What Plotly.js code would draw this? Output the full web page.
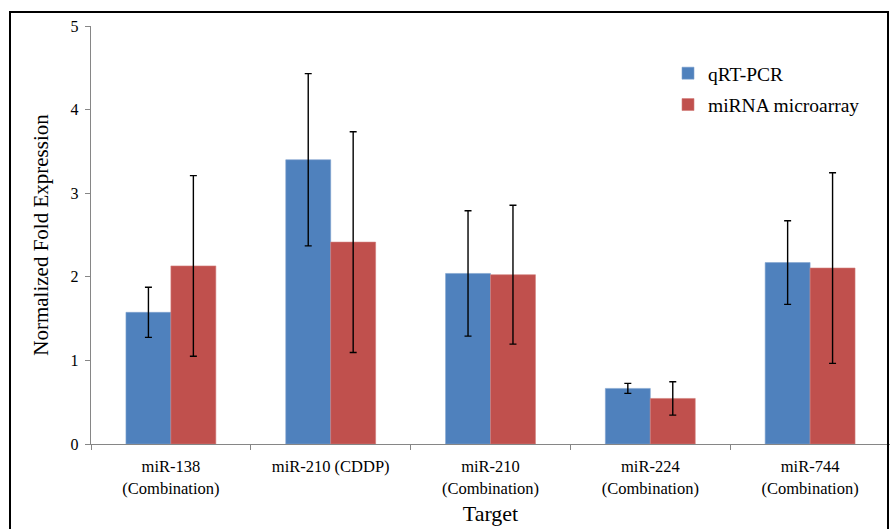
<!DOCTYPE html>
<html>
<head>
<meta charset="utf-8">
<script src="https://cdn.plot.ly/plotly-3.0.1.min.js"></script>
<style>html,body{margin:0;padding:0;background:#fff;}#chart{width:890px;height:529px;}</style>
</head>
<body>
<div id="chart"></div>
<script>
const categories = ["miR-138<br>(Combination)", "miR-210 (CDDP)", "miR-210<br>(Combination)", "miR-224<br>(Combination)", "miR-744<br>(Combination)"];
const qrtpcr = [1.575, 3.40, 2.04, 0.665, 2.17];
const qrtpcrErr = [0.30, 1.03, 0.75, 0.06, 0.50];
const microarray = [2.13, 2.415, 2.025, 0.545, 2.105];
const microarrayErr = [1.08, 1.32, 0.83, 0.20, 1.14];
const yTicks = [0, 1, 2, 3, 4, 5];

const L = 91, R = 0, T = 26, B = 85, W = 890, H = 529;
const pw = W - L - R, ph = H - T - B;
const px = x => (x - L) / pw;
const py = y => (H - B - y) / ph;

const FONT = "'Liberation Serif', 'Times New Roman', serif";
const errStyle = {type: 'data', visible: true, color: '#000', thickness: 1.4, width: 3.5};

const traces = [
  {type: 'bar', name: 'qRT-PCR', x: categories, y: qrtpcr, legendgroup: 'a',
   marker: {color: '#4F81BD', line: {color: '#7fa2cf', width: 0.6}},
   error_y: Object.assign({array: qrtpcrErr}, errStyle)},
  {type: 'bar', name: 'miRNA microarray', x: categories, y: microarray, legendgroup: 'b',
   marker: {color: '#C0504D', line: {color: '#d27d7a', width: 0.6}},
   error_y: Object.assign({array: microarrayErr}, errStyle)}
];

const layout = {
  width: W, height: H,
  margin: {l: L, r: R, t: T, b: B},
  paper_bgcolor: '#fff', plot_bgcolor: '#fff',
  font: {family: FONT, color: '#000'},
  barmode: 'group', bargap: 0.4375, bargroupgap: 0,
  showlegend: true,
  legend: {x: px(668), y: py(54), xanchor: 'left', yanchor: 'top',
           font: {family: FONT, size: 19.5, color: '#000'}, traceorder: 'grouped', tracegroupgap: 3,
           bgcolor: 'rgba(0,0,0,0)', itemwidth: 30},
  xaxis: {type: 'category', showline: true, linecolor: '#868686', linewidth: 1.3,
          ticks: 'outside', tickson: 'boundaries', ticklen: 5, tickcolor: '#868686',
          ticklabelstandoff: 7,
          tickfont: {family: FONT, size: 16.5, color: '#000'}, showgrid: false, zeroline: false,
          title: {text: 'Target', font: {family: FONT, size: 22, color: '#000'}, standoff: 9}},
  yaxis: {range: [0, 5], tickvals: yTicks, showline: true, linecolor: '#868686', linewidth: 1.3,
          ticks: 'outside', ticklen: 5, tickcolor: '#868686', showgrid: false, zeroline: false,
          ticklabelstandoff: 3,
          tickfont: {family: FONT, size: 16, color: '#000'},
          title: {text: 'Normalized Fold Expression', font: {family: FONT, size: 21, color: '#000'}, standoff: 16}},
  shapes: [
    {type: 'rect', xref: 'paper', yref: 'paper', x0: px(10), x1: px(888), y0: py(540), y1: py(12),
     line: {color: '#000', width: 2}, fillcolor: 'rgba(0,0,0,0)', layer: 'above'}
  ]
};

Plotly.newPlot('chart', traces, layout, {displayModeBar: false, staticPlot: true});
</script>
</body>
</html>
